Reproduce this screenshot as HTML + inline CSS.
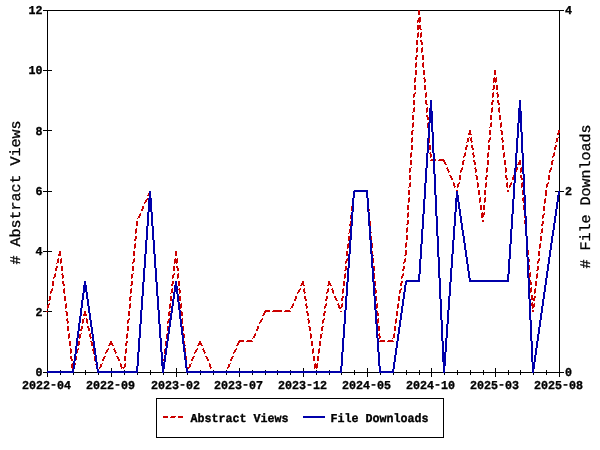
<!DOCTYPE html><html><head><meta charset="utf-8"><title>Usage</title><style>html,body{margin:0;padding:0;background:#fff}svg{display:block}text{text-rendering:geometricPrecision;font-family:"Liberation Mono","DejaVu Sans Mono",monospace;fill:#000}.b{font-weight:bold;font-size:12px;stroke:#000;stroke-width:.35px}.t{font-size:14.6px;stroke:#000;stroke-width:.3px}</style></head><body>
<svg width="600" height="450" viewBox="0 0 600 450">
<rect width="600" height="450" fill="#fff"/>
<g stroke="#000" stroke-width="1" shape-rendering="crispEdges" fill="none">
<rect x="47.5" y="10.5" width="512" height="362"/>
<line x1="43" y1="372.5" x2="52" y2="372.5"/>
<line x1="43" y1="311.5" x2="52" y2="311.5"/>
<line x1="43" y1="251.5" x2="52" y2="251.5"/>
<line x1="43" y1="191.5" x2="52" y2="191.5"/>
<line x1="43" y1="130.5" x2="52" y2="130.5"/>
<line x1="43" y1="70.5" x2="52" y2="70.5"/>
<line x1="43" y1="10.5" x2="52" y2="10.5"/>
<line x1="555" y1="372.5" x2="564" y2="372.5"/>
<line x1="555" y1="191.5" x2="564" y2="191.5"/>
<line x1="555" y1="10.5" x2="564" y2="10.5"/>
<line x1="47.5" y1="368" x2="47.5" y2="377"/>
<line x1="60.5" y1="370" x2="60.5" y2="375"/>
<line x1="73.5" y1="370" x2="73.5" y2="375"/>
<line x1="85.5" y1="370" x2="85.5" y2="375"/>
<line x1="98.5" y1="370" x2="98.5" y2="375"/>
<line x1="111.5" y1="368" x2="111.5" y2="377"/>
<line x1="124.5" y1="370" x2="124.5" y2="375"/>
<line x1="137.5" y1="370" x2="137.5" y2="375"/>
<line x1="150.5" y1="370" x2="150.5" y2="375"/>
<line x1="163.5" y1="370" x2="163.5" y2="375"/>
<line x1="176.5" y1="368" x2="176.5" y2="377"/>
<line x1="187.5" y1="370" x2="187.5" y2="375"/>
<line x1="200.5" y1="370" x2="200.5" y2="375"/>
<line x1="213.5" y1="370" x2="213.5" y2="375"/>
<line x1="226.5" y1="370" x2="226.5" y2="375"/>
<line x1="239.5" y1="368" x2="239.5" y2="377"/>
<line x1="252.5" y1="370" x2="252.5" y2="375"/>
<line x1="265.5" y1="370" x2="265.5" y2="375"/>
<line x1="277.5" y1="370" x2="277.5" y2="375"/>
<line x1="290.5" y1="370" x2="290.5" y2="375"/>
<line x1="303.5" y1="368" x2="303.5" y2="377"/>
<line x1="316.5" y1="370" x2="316.5" y2="375"/>
<line x1="329.5" y1="370" x2="329.5" y2="375"/>
<line x1="341.5" y1="370" x2="341.5" y2="375"/>
<line x1="354.5" y1="370" x2="354.5" y2="375"/>
<line x1="367.5" y1="368" x2="367.5" y2="377"/>
<line x1="380.5" y1="370" x2="380.5" y2="375"/>
<line x1="393.5" y1="370" x2="393.5" y2="375"/>
<line x1="406.5" y1="370" x2="406.5" y2="375"/>
<line x1="419.5" y1="370" x2="419.5" y2="375"/>
<line x1="431.5" y1="368" x2="431.5" y2="377"/>
<line x1="444.5" y1="370" x2="444.5" y2="375"/>
<line x1="457.5" y1="370" x2="457.5" y2="375"/>
<line x1="470.5" y1="370" x2="470.5" y2="375"/>
<line x1="483.5" y1="370" x2="483.5" y2="375"/>
<line x1="495.5" y1="368" x2="495.5" y2="377"/>
<line x1="508.5" y1="370" x2="508.5" y2="375"/>
<line x1="520.5" y1="370" x2="520.5" y2="375"/>
<line x1="533.5" y1="370" x2="533.5" y2="375"/>
<line x1="546.5" y1="370" x2="546.5" y2="375"/>
<line x1="559.5" y1="368" x2="559.5" y2="377"/>
<rect x="156.5" y="398.5" width="287" height="39"/>
</g>
<path fill="#cc0000" shape-rendering="crispEdges" d="M418 10h2v5h-2zM419 17h2v1h-2zM418 18h3v2h-3zM417 20h4v2h-4zM419 22h1v1h-1zM417 22h1v1h-1zM417 25h4v4h-4zM420 29h2v1h-2zM417 29h2v1h-2zM418 32h1v1h-1zM421 32h1v1h-1zM420 33h2v4h-2zM417 33h2v4h-2zM420 37h1v1h-1zM417 37h1v1h-1zM420 40h2v2h-2zM416 40h2v5h-2zM421 42h2v3h-2zM422 47h1v1h-1zM417 47h1v1h-1zM421 48h2v4h-2zM416 48h2v4h-2zM416 52h1v1h-1zM421 52h1v1h-1zM416 55h2v2h-2zM422 55h2v5h-2zM415 57h2v3h-2zM416 62h1v1h-1zM423 62h1v1h-1zM422 63h2v4h-2zM415 63h2v4h-2zM415 67h1v1h-1zM423 67h1v1h-1zM423 70h2v5h-2zM415 70h2v5h-2zM494 70h2v5h-2zM424 77h1v1h-1zM415 77h1v1h-1zM494 77h1v1h-1zM496 77h1v1h-1zM423 78h2v1h-2zM414 78h2v4h-2zM493 78h4v4h-4zM424 79h2v3h-2zM495 82h1v1h-1zM414 82h1v1h-1zM493 82h1v1h-1zM424 82h1v1h-1zM493 85h2v4h-2zM496 85h2v5h-2zM414 85h2v5h-2zM424 85h2v5h-2zM492 89h2v1h-2zM497 92h1v1h-1zM493 92h1v1h-1zM415 92h1v1h-1zM426 92h1v1h-1zM496 93h2v1h-2zM414 93h2v1h-2zM425 93h2v4h-2zM492 93h2v4h-2zM497 94h2v3h-2zM413 94h2v3h-2zM425 97h1v1h-1zM497 97h1v1h-1zM413 97h1v1h-1zM492 97h1v1h-1zM492 100h2v2h-2zM497 100h2v3h-2zM425 100h2v4h-2zM413 100h2v5h-2zM491 102h2v3h-2zM498 103h2v2h-2zM426 104h2v1h-2zM427 107h1v1h-1zM414 107h1v1h-1zM499 107h1v1h-1zM492 107h1v1h-1zM498 108h2v4h-2zM491 108h2v4h-2zM413 108h2v4h-2zM426 108h2v4h-2zM412 112h1v1h-1zM499 112h1v1h-1zM491 112h1v1h-1zM426 112h1v1h-1zM426 115h2v2h-2zM412 115h2v5h-2zM499 115h2v5h-2zM490 115h2v5h-2zM427 117h2v3h-2zM491 122h1v1h-1zM501 122h1v1h-1zM413 122h1v1h-1zM428 122h1v1h-1zM412 123h2v4h-2zM500 123h2v4h-2zM490 123h2v4h-2zM427 123h1v5h-1zM412 127h1v1h-1zM489 127h1v1h-1zM500 127h1v1h-1zM500 130h2v1h-2zM412 130h2v1h-2zM469 130h2v3h-2zM558 130h2v3h-2zM468 133h3v1h-3zM489 130h2v5h-2zM411 131h2v4h-2zM501 131h2v4h-2zM557 133h2v2h-2zM468 134h4v1h-4zM502 137h1v1h-1zM558 137h1v1h-1zM469 137h1v1h-1zM471 137h1v1h-1zM490 137h1v1h-1zM412 137h1v1h-1zM489 138h2v2h-2zM501 138h2v2h-2zM470 138h2v3h-2zM411 138h2v4h-2zM467 138h2v4h-2zM556 138h2v4h-2zM502 140h2v2h-2zM488 140h2v2h-2zM471 141h2v1h-2zM429 138h1v5h-1zM502 142h1v1h-1zM488 142h1v1h-1zM555 142h1v1h-1zM471 142h1v1h-1zM411 142h1v1h-1zM466 142h1v1h-1zM555 145h2v2h-2zM466 145h2v2h-2zM471 145h2v3h-2zM411 145h2v5h-2zM429 145h2v5h-2zM502 145h2v5h-2zM488 145h2v5h-2zM554 147h2v3h-2zM465 147h2v3h-2zM472 148h2v2h-2zM504 152h1v1h-1zM488 152h1v1h-1zM411 152h1v1h-1zM554 152h1v1h-1zM465 152h1v1h-1zM473 152h1v1h-1zM430 152h1v1h-1zM429 153h2v1h-2zM472 153h2v2h-2zM553 153h2v3h-2zM464 153h2v3h-2zM487 153h2v4h-2zM503 153h2v4h-2zM410 153h2v4h-2zM430 154h2v3h-2zM473 155h2v2h-2zM552 156h2v1h-2zM463 156h2v1h-2zM463 157h1v1h-1zM487 157h1v1h-1zM552 157h1v1h-1zM503 157h1v1h-1zM410 157h1v1h-1zM473 157h1v1h-1zM430 157h1v1h-1zM439 159h5v1h-5zM431 159h2v1h-2zM435 159h1v2h-1zM552 160h2v1h-2zM430 160h3v1h-3zM463 160h2v1h-2zM438 160h7v1h-7zM519 160h2v2h-2zM473 160h2v2h-2zM443 161h2v1h-2zM518 162h3v2h-3zM444 162h2v2h-2zM487 160h2v5h-2zM410 160h2v5h-2zM504 160h2v5h-2zM551 161h2v4h-2zM462 161h2v4h-2zM474 162h2v3h-2zM517 164h4v1h-4zM445 164h2v1h-2zM475 167h1v1h-1zM487 167h1v1h-1zM551 167h1v1h-1zM462 167h1v1h-1zM517 167h1v1h-1zM411 167h1v1h-1zM447 167h1v1h-1zM521 167h1v1h-1zM505 167h1v1h-1zM474 168h2v1h-2zM446 168h2v1h-2zM461 168h2v2h-2zM516 168h2v2h-2zM550 168h2v2h-2zM447 169h2v2h-2zM409 168h2v4h-2zM505 168h2v4h-2zM486 168h2v4h-2zM520 168h2v4h-2zM475 169h2v3h-2zM516 170h1v2h-1zM460 170h2v2h-2zM549 170h2v2h-2zM448 171h2v1h-2zM520 172h1v1h-1zM486 172h1v1h-1zM475 172h1v1h-1zM549 172h1v1h-1zM409 172h1v1h-1zM460 172h1v1h-1zM448 172h1v1h-1zM505 172h1v1h-1zM475 175h2v1h-2zM449 175h2v1h-2zM513 175h1v2h-1zM486 175h2v2h-2zM505 175h2v3h-2zM520 175h2v3h-2zM450 176h2v2h-2zM409 175h2v5h-2zM548 175h2v5h-2zM459 175h2v5h-2zM476 176h2v4h-2zM512 177h2v3h-2zM485 177h2v3h-2zM506 178h2v2h-2zM451 178h2v2h-2zM521 178h2v2h-2zM511 182h1v1h-1zM486 182h1v1h-1zM453 182h1v1h-1zM507 182h1v1h-1zM522 182h1v1h-1zM410 182h1v1h-1zM548 182h1v1h-1zM477 182h1v1h-1zM459 182h1v1h-1zM458 183h2v1h-2zM547 183h2v1h-2zM510 183h2v2h-2zM453 183h2v3h-2zM409 183h2v4h-2zM506 183h2v4h-2zM485 183h2v4h-2zM477 183h2v4h-2zM521 183h2v4h-2zM546 184h2v3h-2zM457 184h2v3h-2zM509 185h2v2h-2zM454 186h2v1h-2zM408 187h1v1h-1zM521 187h1v1h-1zM546 187h1v1h-1zM507 187h1v1h-1zM509 187h1v1h-1zM454 187h1v1h-1zM485 187h1v1h-1zM477 187h1v1h-1zM457 187h1v1h-1zM456 190h2v1h-2zM507 190h2v2h-2zM478 190h2v5h-2zM484 190h2v5h-2zM522 190h1v5h-1zM408 190h2v5h-2zM148 193h1v2h-1zM545 190h2v6h-2zM147 195h2v1h-2zM485 197h1v1h-1zM480 197h1v1h-1zM409 197h1v1h-1zM523 197h1v1h-1zM147 198h1v1h-1zM545 198h1v1h-1zM146 199h2v1h-2zM522 198h2v3h-2zM484 198h2v4h-2zM479 198h2v4h-2zM408 198h2v4h-2zM145 200h2v2h-2zM544 199h2v4h-2zM523 201h1v2h-1zM479 202h1v1h-1zM408 202h1v1h-1zM484 202h1v1h-1zM144 202h2v1h-2zM544 203h1v1h-1zM144 203h1v1h-1zM142 206h2v3h-2zM407 205h2v5h-2zM523 205h1v5h-1zM483 205h2v5h-2zM480 205h2v5h-2zM351 206h1v5h-1zM543 206h2v5h-2zM141 209h2v2h-2zM369 209h1v2h-1zM482 212h1v1h-1zM484 212h1v1h-1zM408 212h1v1h-1zM140 213h1v1h-1zM544 213h1v1h-1zM481 213h4v2h-4zM543 214h2v1h-2zM139 214h2v2h-2zM407 213h2v4h-2zM481 215h3v2h-3zM542 215h2v3h-2zM524 216h1v2h-1zM138 216h2v2h-2zM481 217h2v1h-2zM407 217h1v1h-1zM350 215h1v4h-1zM542 218h1v1h-1zM137 218h1v1h-1zM482 220h2v2h-2zM524 220h1v4h-1zM407 220h2v4h-2zM350 221h1v3h-1zM542 221h2v3h-2zM406 224h2v1h-2zM370 221h1v5h-1zM136 221h2v5h-2zM349 224h2v2h-2zM541 224h2v2h-2zM407 227h1v1h-1zM542 228h1v1h-1zM136 228h1v1h-1zM406 228h2v4h-2zM541 229h2v4h-2zM349 229h1v4h-1zM135 229h2v4h-2zM406 232h1v1h-1zM371 232h1v1h-1zM348 233h1v1h-1zM135 233h1v1h-1zM540 233h1v1h-1zM135 236h2v3h-2zM406 235h2v5h-2zM371 236h1v4h-1zM348 236h2v4h-2zM540 236h2v5h-2zM134 239h2v2h-2zM348 240h1v1h-1zM406 242h1v1h-1zM135 243h1v1h-1zM540 243h1v1h-1zM348 243h1v1h-1zM405 243h2v4h-2zM372 243h1v5h-1zM134 244h2v4h-2zM539 244h2v4h-2zM347 244h2v4h-2zM405 247h1v1h-1zM539 248h1v1h-1zM134 248h1v1h-1zM347 248h1v1h-1zM372 251h1v3h-1zM59 251h2v3h-2zM528 250h1v5h-1zM405 250h2v5h-2zM346 251h2v5h-2zM175 251h2v5h-2zM538 251h2v5h-2zM133 251h2v5h-2zM58 254h3v2h-3zM373 255h1v1h-1zM404 255h2v1h-2zM61 258h1v1h-1zM134 258h1v1h-1zM347 258h1v1h-1zM58 258h1v1h-1zM175 258h1v1h-1zM405 258h1v1h-1zM539 258h1v1h-1zM177 258h1v1h-1zM346 259h2v2h-2zM538 259h2v2h-2zM133 259h2v3h-2zM529 259h1v3h-1zM404 259h2v3h-2zM373 258h1v5h-1zM57 259h2v4h-2zM174 259h4v4h-4zM60 259h2v4h-2zM345 261h2v2h-2zM537 261h2v2h-2zM403 262h2v1h-2zM132 262h2v1h-2zM132 263h1v1h-1zM174 263h1v1h-1zM176 263h1v1h-1zM345 263h1v1h-1zM56 263h1v1h-1zM60 263h1v1h-1zM403 263h1v1h-1zM537 263h1v1h-1zM56 266h2v2h-2zM176 266h2v2h-2zM373 266h2v2h-2zM403 266h2v3h-2zM529 265h1v5h-1zM345 266h2v4h-2zM537 266h2v4h-2zM173 266h2v5h-2zM132 266h2v5h-2zM61 266h2v5h-2zM55 268h2v3h-2zM374 268h1v3h-1zM177 268h2v3h-2zM402 269h2v2h-2zM536 270h2v1h-2zM344 270h2v1h-2zM530 272h1v1h-1zM174 273h1v1h-1zM55 273h1v1h-1zM345 273h1v1h-1zM133 273h1v1h-1zM62 273h1v1h-1zM403 273h1v1h-1zM178 273h1v1h-1zM537 273h1v1h-1zM173 274h2v1h-2zM61 274h2v1h-2zM402 274h2v2h-2zM529 273h2v4h-2zM54 274h2v3h-2zM131 274h2v4h-2zM536 274h2v4h-2zM177 274h2v4h-2zM344 274h2v4h-2zM172 275h2v3h-2zM62 275h2v3h-2zM401 276h2v2h-2zM529 277h1v1h-1zM53 277h2v1h-2zM374 273h1v6h-1zM344 278h1v1h-1zM401 278h1v1h-1zM53 278h1v1h-1zM536 278h1v1h-1zM172 278h1v1h-1zM131 278h1v1h-1zM62 278h1v1h-1zM177 278h1v1h-1zM530 280h1v2h-1zM374 281h2v1h-2zM302 281h2v2h-2zM401 281h2v2h-2zM328 281h2v2h-2zM172 281h2v3h-2zM62 281h2v3h-2zM131 281h2v4h-2zM530 282h2v3h-2zM328 283h3v2h-3zM301 283h3v2h-3zM535 281h2v5h-2zM178 281h2v5h-2zM52 281h2v5h-2zM343 281h2v5h-2zM375 282h1v4h-1zM400 283h2v3h-2zM171 284h2v2h-2zM63 284h2v2h-2zM130 285h2v1h-2zM330 285h2v1h-2zM327 285h2v1h-2zM300 285h2v1h-2zM303 285h2v1h-2zM531 287h1v1h-1zM52 288h1v1h-1zM343 288h1v1h-1zM179 288h1v1h-1zM64 288h1v1h-1zM328 288h1v1h-1zM401 288h1v1h-1zM535 288h1v1h-1zM172 288h1v1h-1zM300 288h1v1h-1zM304 288h1v1h-1zM131 288h1v1h-1zM332 288h1v1h-1zM375 288h1v2h-1zM400 289h2v1h-2zM178 289h2v1h-2zM331 289h2v1h-2zM299 289h2v1h-2zM51 289h2v2h-2zM530 288h2v4h-2zM327 289h2v3h-2zM303 289h2v3h-2zM298 290h2v2h-2zM130 289h2v4h-2zM171 289h2v4h-2zM342 289h2v4h-2zM534 289h2v4h-2zM63 289h2v4h-2zM375 290h2v3h-2zM332 290h2v3h-2zM179 290h2v3h-2zM399 290h2v3h-2zM50 291h2v2h-2zM530 292h1v1h-1zM326 292h2v1h-2zM304 292h2v1h-2zM297 292h2v1h-2zM179 293h1v1h-1zM64 293h1v1h-1zM333 293h1v1h-1zM130 293h1v1h-1zM326 293h1v1h-1zM50 293h1v1h-1zM399 293h1v1h-1zM375 293h1v1h-1zM304 293h1v1h-1zM297 293h1v1h-1zM342 293h1v1h-1zM534 293h1v1h-1zM170 293h1v1h-1zM130 296h2v1h-2zM531 295h2v3h-2zM342 296h2v2h-2zM334 296h2v2h-2zM534 296h2v2h-2zM326 296h2v3h-2zM304 296h2v3h-2zM295 296h2v3h-2zM49 296h2v4h-2zM335 298h2v2h-2zM531 298h4v2h-4zM64 296h2v5h-2zM398 296h2v5h-2zM170 296h2v5h-2zM179 296h2v5h-2zM376 296h1v5h-1zM129 297h2v4h-2zM341 298h2v3h-2zM294 299h2v2h-2zM305 299h2v2h-2zM325 299h2v2h-2zM48 300h2v1h-2zM336 300h2v1h-2zM533 300h2v1h-2zM532 302h1v1h-1zM306 303h1v1h-1zM130 303h1v1h-1zM326 303h1v1h-1zM398 303h1v1h-1zM293 303h1v1h-1zM531 303h2v1h-2zM66 303h1v1h-1zM377 303h1v1h-1zM338 303h1v1h-1zM49 303h1v1h-1zM342 303h1v1h-1zM534 303h1v1h-1zM181 303h1v1h-1zM170 303h1v1h-1zM337 304h2v1h-2zM48 304h2v1h-2zM305 304h2v2h-2zM325 304h2v2h-2zM531 304h4v2h-4zM292 304h2v2h-2zM341 304h2v3h-2zM338 305h2v2h-2zM532 306h3v1h-3zM169 304h2v4h-2zM376 304h2v4h-2zM180 304h2v4h-2zM129 304h2v4h-2zM65 304h2v4h-2zM397 304h2v4h-2zM47 305h2v3h-2zM291 306h2v2h-2zM324 306h2v2h-2zM306 306h2v2h-2zM532 307h2v1h-2zM338 307h4v1h-4zM306 308h1v1h-1zM290 308h1v1h-1zM129 308h1v1h-1zM65 308h1v1h-1zM324 308h1v1h-1zM397 308h1v1h-1zM376 308h1v1h-1zM532 308h1v1h-1zM339 308h2v1h-2zM47 308h1v1h-1zM169 308h1v1h-1zM180 308h1v1h-1zM273 310h9v1h-9zM285 310h5v1h-5zM265 310h5v1h-5zM532 310h2v2h-2zM272 311h10v1h-10zM169 311h2v1h-2zM340 311h2v1h-2zM46 311h2v1h-2zM284 311h7v1h-7zM65 311h2v1h-2zM264 311h6v1h-6zM181 311h1v1h-1zM324 311h2v2h-2zM377 311h1v2h-1zM306 311h2v2h-2zM264 312h2v1h-2zM84 311h2v3h-2zM263 313h2v2h-2zM128 311h2v5h-2zM396 311h2v5h-2zM66 312h2v4h-2zM168 312h2v4h-2zM181 312h2v4h-2zM307 313h2v3h-2zM377 313h2v3h-2zM323 313h2v3h-2zM83 314h4v2h-4zM262 315h2v1h-2zM129 318h1v1h-1zM67 318h1v1h-1zM324 318h1v1h-1zM262 318h1v1h-1zM308 318h1v1h-1zM378 318h1v1h-1zM86 318h1v1h-1zM169 318h1v1h-1zM396 318h1v1h-1zM84 318h1v1h-1zM128 319h2v1h-2zM307 319h2v1h-2zM323 319h2v1h-2zM261 319h2v1h-2zM168 319h2v1h-2zM66 319h2v2h-2zM168 320h1v1h-1zM260 320h2v2h-2zM82 319h2v4h-2zM86 319h2v4h-2zM395 319h2v4h-2zM377 319h2v4h-2zM127 320h2v3h-2zM322 320h2v3h-2zM308 320h2v3h-2zM167 321h2v2h-2zM67 321h2v2h-2zM259 322h2v1h-2zM182 318h1v6h-1zM67 323h1v1h-1zM395 323h1v1h-1zM167 323h1v1h-1zM308 323h1v1h-1zM259 323h1v1h-1zM82 323h1v1h-1zM127 323h1v1h-1zM322 323h1v1h-1zM87 323h1v1h-1zM377 323h1v1h-1zM182 326h2v1h-2zM322 326h2v1h-2zM167 326h2v1h-2zM308 326h2v1h-2zM87 326h2v2h-2zM257 326h2v3h-2zM81 326h2v3h-2zM127 326h2v5h-2zM394 326h2v5h-2zM378 326h2v5h-2zM67 326h2v5h-2zM321 327h2v4h-2zM183 327h1v4h-1zM167 327h1v4h-1zM309 327h2v4h-2zM88 328h2v3h-2zM256 329h2v2h-2zM80 329h2v2h-2zM379 333h1v1h-1zM81 333h1v1h-1zM90 333h1v1h-1zM183 333h1v1h-1zM167 333h1v1h-1zM255 333h1v1h-1zM127 333h1v1h-1zM69 333h1v1h-1zM322 333h1v1h-1zM394 333h1v1h-1zM310 333h1v1h-1zM183 334h2v1h-2zM378 334h2v2h-2zM254 334h2v2h-2zM89 334h2v3h-2zM320 334h2v4h-2zM393 334h2v4h-2zM79 334h2v4h-2zM310 334h2v4h-2zM68 334h2v4h-2zM126 334h2v4h-2zM184 335h1v3h-1zM253 336h2v2h-2zM379 336h2v2h-2zM90 337h2v1h-2zM166 334h1v5h-1zM68 338h1v1h-1zM90 338h1v1h-1zM379 338h1v1h-1zM126 338h1v1h-1zM392 338h1v1h-1zM320 338h1v1h-1zM79 338h1v1h-1zM310 338h1v1h-1zM252 338h1v1h-1zM239 340h5v1h-5zM380 340h5v1h-5zM388 340h5v1h-5zM247 340h5v1h-5zM238 341h6v1h-6zM379 341h6v1h-6zM246 341h7v1h-7zM90 341h2v1h-2zM387 341h7v1h-7zM126 341h2v2h-2zM110 341h2v2h-2zM199 341h2v2h-2zM238 342h2v1h-2zM184 341h1v3h-1zM78 341h2v4h-2zM109 343h4v2h-4zM198 343h4v2h-4zM237 343h2v2h-2zM311 341h2v5h-2zM319 341h2v5h-2zM69 341h2v5h-2zM165 341h1v5h-1zM91 342h2v4h-2zM125 343h2v3h-2zM201 345h2v1h-2zM112 345h2v1h-2zM236 345h2v1h-2zM197 345h2v1h-2zM185 345h1v1h-1zM108 345h2v1h-2zM78 345h1v1h-1zM70 348h1v1h-1zM197 348h1v1h-1zM126 348h1v1h-1zM108 348h1v1h-1zM93 348h1v1h-1zM319 348h1v1h-1zM236 348h1v1h-1zM313 348h1v1h-1zM203 348h1v1h-1zM114 348h1v1h-1zM78 348h1v1h-1zM77 349h2v1h-2zM202 349h2v1h-2zM113 349h2v1h-2zM196 349h2v1h-2zM107 349h2v1h-2zM235 349h2v1h-2zM92 349h2v2h-2zM185 348h1v4h-1zM195 350h2v2h-2zM234 350h2v2h-2zM203 350h2v2h-2zM114 350h2v2h-2zM106 350h2v2h-2zM318 349h2v4h-2zM125 349h2v4h-2zM312 349h2v4h-2zM70 349h2v4h-2zM77 350h1v3h-1zM105 352h2v1h-2zM204 352h2v1h-2zM233 352h2v1h-2zM194 352h2v1h-2zM115 352h2v1h-2zM164 349h1v5h-1zM93 351h1v3h-1zM125 353h1v1h-1zM70 353h1v1h-1zM115 353h1v1h-1zM105 353h1v1h-1zM233 353h1v1h-1zM204 353h1v1h-1zM194 353h1v1h-1zM312 353h1v1h-1zM318 353h1v1h-1zM193 356h2v1h-2zM104 356h2v1h-2zM232 356h2v1h-2zM205 356h2v1h-2zM116 356h2v1h-2zM70 356h2v3h-2zM192 357h2v2h-2zM117 357h2v2h-2zM231 357h2v2h-2zM206 357h2v2h-2zM103 357h2v2h-2zM186 356h1v4h-1zM76 356h1v4h-1zM124 356h2v5h-2zM313 356h2v5h-2zM317 356h2v5h-2zM94 356h1v5h-1zM163 359h1v2h-1zM118 359h2v2h-2zM191 359h2v2h-2zM102 359h2v2h-2zM71 359h2v2h-2zM207 359h2v2h-2zM230 359h2v2h-2zM72 363h1v1h-1zM125 363h1v1h-1zM209 363h1v1h-1zM315 363h1v1h-1zM317 363h1v1h-1zM191 363h1v1h-1zM102 363h1v1h-1zM230 363h1v1h-1zM120 363h1v1h-1zM75 363h1v2h-1zM95 364h1v1h-1zM189 364h2v3h-2zM120 364h2v3h-2zM124 364h2v3h-2zM209 364h2v3h-2zM100 364h2v3h-2zM228 364h2v3h-2zM71 364h2v4h-2zM314 364h4v4h-4zM187 367h3v1h-3zM227 367h2v1h-2zM121 367h4v1h-4zM210 367h2v1h-2zM99 367h2v1h-2zM72 368h1v1h-1zM99 368h1v1h-1zM121 368h1v1h-1zM314 368h1v1h-1zM227 368h1v1h-1zM188 368h1v1h-1zM210 368h1v1h-1zM123 368h1v1h-1zM316 368h1v1h-1zM171 416h5v1h-5zM163 416h5v2h-5zM178 416h5v2h-5zM170 417h5v1h-5z"/>
<path fill="#0000aa" shape-rendering="crispEdges" d="M430 100h2v8h-2zM519 100h2v8h-2zM518 108h3v3h-3zM429 108h3v3h-3zM518 111h4v12h-4zM429 111h4v12h-4zM520 123h2v9h-2zM431 123h2v9h-2zM517 123h2v15h-2zM428 123h2v15h-2zM432 132h2v21h-2zM521 132h2v21h-2zM427 138h2v15h-2zM516 138h2v15h-2zM515 153h2v15h-2zM426 153h2v15h-2zM522 153h2v21h-2zM433 153h2v21h-2zM425 168h2v15h-2zM514 168h2v15h-2zM354 190h14v1h-14zM353 191h15v1h-15zM434 174h2v21h-2zM523 174h2v21h-2zM456 191h2v4h-2zM558 191h2v4h-2zM149 191h2v7h-2zM366 192h2v6h-2zM353 192h2v6h-2zM456 195h3v3h-3zM513 183h2v16h-2zM424 183h2v16h-2zM557 195h2v7h-2zM455 198h4v4h-4zM458 202h2v7h-2zM556 202h2v7h-2zM352 198h2v14h-2zM148 198h4v14h-4zM367 198h2v14h-2zM455 202h2v10h-2zM423 199h2v15h-2zM512 199h2v15h-2zM524 195h2v21h-2zM435 195h2v21h-2zM555 209h2v7h-2zM459 209h2v7h-2zM554 216h2v7h-2zM460 216h2v7h-2zM368 212h2v14h-2zM147 212h2v14h-2zM454 212h2v14h-2zM351 212h2v14h-2zM151 212h2v14h-2zM422 214h2v15h-2zM511 214h2v15h-2zM553 223h2v7h-2zM461 223h2v7h-2zM525 216h2v20h-2zM436 216h2v20h-2zM462 230h2v6h-2zM552 230h2v6h-2zM146 226h2v14h-2zM152 226h2v14h-2zM350 226h2v14h-2zM453 226h2v14h-2zM369 226h2v14h-2zM551 236h2v7h-2zM463 236h2v7h-2zM421 229h2v15h-2zM510 229h2v15h-2zM464 243h2v7h-2zM550 243h2v7h-2zM452 240h2v14h-2zM349 240h2v14h-2zM370 240h2v14h-2zM145 240h2v14h-2zM153 240h2v14h-2zM526 236h2v21h-2zM437 236h2v21h-2zM465 250h2v7h-2zM549 250h2v7h-2zM420 244h2v15h-2zM509 244h2v15h-2zM548 257h2v7h-2zM466 257h2v7h-2zM451 254h2v14h-2zM348 254h2v14h-2zM154 254h2v14h-2zM144 254h2v14h-2zM371 254h2v14h-2zM467 264h2v7h-2zM547 264h2v7h-2zM419 259h2v15h-2zM508 259h2v15h-2zM527 257h2v21h-2zM438 257h2v21h-2zM546 271h2v7h-2zM468 271h2v7h-2zM507 274h2v6h-2zM418 274h2v6h-2zM469 278h2v2h-2zM406 280h14v1h-14zM155 268h2v14h-2zM143 268h2v14h-2zM450 268h2v14h-2zM372 268h2v14h-2zM347 268h2v14h-2zM469 280h40v2h-40zM405 281h15v1h-15zM545 278h2v7h-2zM175 281h2v4h-2zM84 281h2v4h-2zM405 282h2v3h-2zM174 285h3v1h-3zM83 285h4v7h-4zM544 285h2v7h-2zM404 285h2v7h-2zM174 286h4v6h-4zM83 292h2v1h-2zM176 292h2v2h-2zM346 282h2v14h-2zM156 282h2v14h-2zM142 282h2v14h-2zM449 282h2v14h-2zM373 282h2v14h-2zM439 278h2v21h-2zM528 278h2v21h-2zM173 292h2v7h-2zM86 292h2v7h-2zM403 292h2v7h-2zM543 292h2v7h-2zM82 293h2v7h-2zM177 294h2v8h-2zM542 299h2v7h-2zM172 299h2v7h-2zM87 299h2v7h-2zM402 299h2v7h-2zM81 300h2v8h-2zM141 296h2v14h-2zM345 296h2v14h-2zM374 296h2v14h-2zM448 296h2v14h-2zM157 296h2v14h-2zM178 302h2v8h-2zM401 306h2v7h-2zM88 306h2v7h-2zM171 306h2v7h-2zM541 306h2v7h-2zM80 308h2v8h-2zM179 310h2v9h-2zM529 299h2v21h-2zM440 299h2v21h-2zM400 313h2v7h-2zM540 313h2v7h-2zM170 313h2v7h-2zM89 313h2v7h-2zM79 316h2v7h-2zM375 310h2v14h-2zM447 310h2v14h-2zM158 310h2v14h-2zM140 310h2v14h-2zM344 310h2v14h-2zM180 319h2v8h-2zM169 320h2v7h-2zM539 320h2v7h-2zM399 320h2v7h-2zM90 320h2v7h-2zM78 323h2v8h-2zM398 327h2v7h-2zM538 327h2v7h-2zM91 327h2v7h-2zM168 327h2v7h-2zM181 327h2v8h-2zM159 324h2v14h-2zM376 324h2v14h-2zM139 324h2v14h-2zM343 324h2v14h-2zM446 324h2v14h-2zM77 331h2v7h-2zM441 320h2v21h-2zM530 320h2v21h-2zM537 334h2v7h-2zM397 334h2v7h-2zM167 334h2v7h-2zM92 334h2v7h-2zM182 335h2v9h-2zM76 338h2v8h-2zM166 341h2v7h-2zM93 341h2v7h-2zM536 341h2v7h-2zM396 341h2v7h-2zM445 338h2v14h-2zM342 338h2v14h-2zM377 338h2v14h-2zM160 338h2v14h-2zM138 338h2v14h-2zM442 341h2v11h-2zM183 344h2v8h-2zM75 346h2v8h-2zM535 348h2v7h-2zM165 348h2v7h-2zM94 348h2v7h-2zM395 348h2v7h-2zM184 352h2v8h-2zM74 354h2v7h-2zM531 341h2v21h-2zM442 352h4v10h-4zM161 352h2v10h-2zM95 355h2v7h-2zM394 355h2v7h-2zM534 355h2v7h-2zM164 355h2v7h-2zM137 352h2v14h-2zM341 352h2v14h-2zM378 352h2v14h-2zM161 362h4v4h-4zM443 362h3v4h-3zM185 360h2v8h-2zM73 361h2v8h-2zM393 362h2v7h-2zM532 362h3v7h-3zM96 362h2v7h-2zM162 366h3v3h-3zM136 366h2v5h-2zM379 366h2v5h-2zM340 366h2v5h-2zM186 368h2v3h-2zM72 369h2v2h-2zM97 369h2v2h-2zM392 369h2v2h-2zM443 366h2v7h-2zM532 369h2v4h-2zM162 369h2v4h-2zM186 371h156v2h-156zM97 371h41v2h-41zM47 371h27v2h-27zM379 371h15v2h-15zM303 416h22v2h-22z"/>
<text class="b" x="42.5" y="376" text-anchor="end" textLength="7" lengthAdjust="spacingAndGlyphs">0</text>
<text class="b" x="42.5" y="316" text-anchor="end" textLength="7" lengthAdjust="spacingAndGlyphs">2</text>
<text class="b" x="42.5" y="255" text-anchor="end" textLength="7" lengthAdjust="spacingAndGlyphs">4</text>
<text class="b" x="42.5" y="195" text-anchor="end" textLength="7" lengthAdjust="spacingAndGlyphs">6</text>
<text class="b" x="42.5" y="135" text-anchor="end" textLength="7" lengthAdjust="spacingAndGlyphs">8</text>
<text class="b" x="42.5" y="74" text-anchor="end" textLength="14" lengthAdjust="spacingAndGlyphs">10</text>
<text class="b" x="42.5" y="14" text-anchor="end" textLength="14" lengthAdjust="spacingAndGlyphs">12</text>
<text class="b" x="565" y="376" text-anchor="start" textLength="7" lengthAdjust="spacingAndGlyphs">0</text>
<text class="b" x="565" y="195" text-anchor="start" textLength="7" lengthAdjust="spacingAndGlyphs">2</text>
<text class="b" x="565" y="14" text-anchor="start" textLength="7" lengthAdjust="spacingAndGlyphs">4</text>
<text class="b" x="46.5" y="389" text-anchor="middle" textLength="49" lengthAdjust="spacingAndGlyphs">2022<tspan dy="-1.2">-</tspan><tspan dy="1.2">04</tspan></text>
<text class="b" x="110.5" y="389" text-anchor="middle" textLength="49" lengthAdjust="spacingAndGlyphs">2022<tspan dy="-1.2">-</tspan><tspan dy="1.2">09</tspan></text>
<text class="b" x="175.5" y="389" text-anchor="middle" textLength="49" lengthAdjust="spacingAndGlyphs">2023<tspan dy="-1.2">-</tspan><tspan dy="1.2">02</tspan></text>
<text class="b" x="238.5" y="389" text-anchor="middle" textLength="49" lengthAdjust="spacingAndGlyphs">2023<tspan dy="-1.2">-</tspan><tspan dy="1.2">07</tspan></text>
<text class="b" x="302.5" y="389" text-anchor="middle" textLength="49" lengthAdjust="spacingAndGlyphs">2023<tspan dy="-1.2">-</tspan><tspan dy="1.2">12</tspan></text>
<text class="b" x="366.5" y="389" text-anchor="middle" textLength="49" lengthAdjust="spacingAndGlyphs">2024<tspan dy="-1.2">-</tspan><tspan dy="1.2">05</tspan></text>
<text class="b" x="430.5" y="389" text-anchor="middle" textLength="49" lengthAdjust="spacingAndGlyphs">2024<tspan dy="-1.2">-</tspan><tspan dy="1.2">10</tspan></text>
<text class="b" x="494.5" y="389" text-anchor="middle" textLength="49" lengthAdjust="spacingAndGlyphs">2025<tspan dy="-1.2">-</tspan><tspan dy="1.2">03</tspan></text>
<text class="b" x="558.5" y="389" text-anchor="middle" textLength="49" lengthAdjust="spacingAndGlyphs">2025<tspan dy="-1.2">-</tspan><tspan dy="1.2">08</tspan></text>
<text class="b" x="190.5" y="422" text-anchor="start" textLength="98" lengthAdjust="spacingAndGlyphs">Abstract&#160;Views</text>
<text class="b" x="330.5" y="422" text-anchor="start" textLength="98" lengthAdjust="spacingAndGlyphs">File&#160;Downloads</text>
<text class="t" transform="translate(20,192.5) rotate(-90)" text-anchor="middle" textLength="144" lengthAdjust="spacingAndGlyphs">#&#160;Abstract&#160;Views</text>
<text class="t" transform="translate(590,196.5) rotate(-90)" text-anchor="middle" textLength="144" lengthAdjust="spacingAndGlyphs">#&#160;File&#160;Downloads</text>
</svg></body></html>
